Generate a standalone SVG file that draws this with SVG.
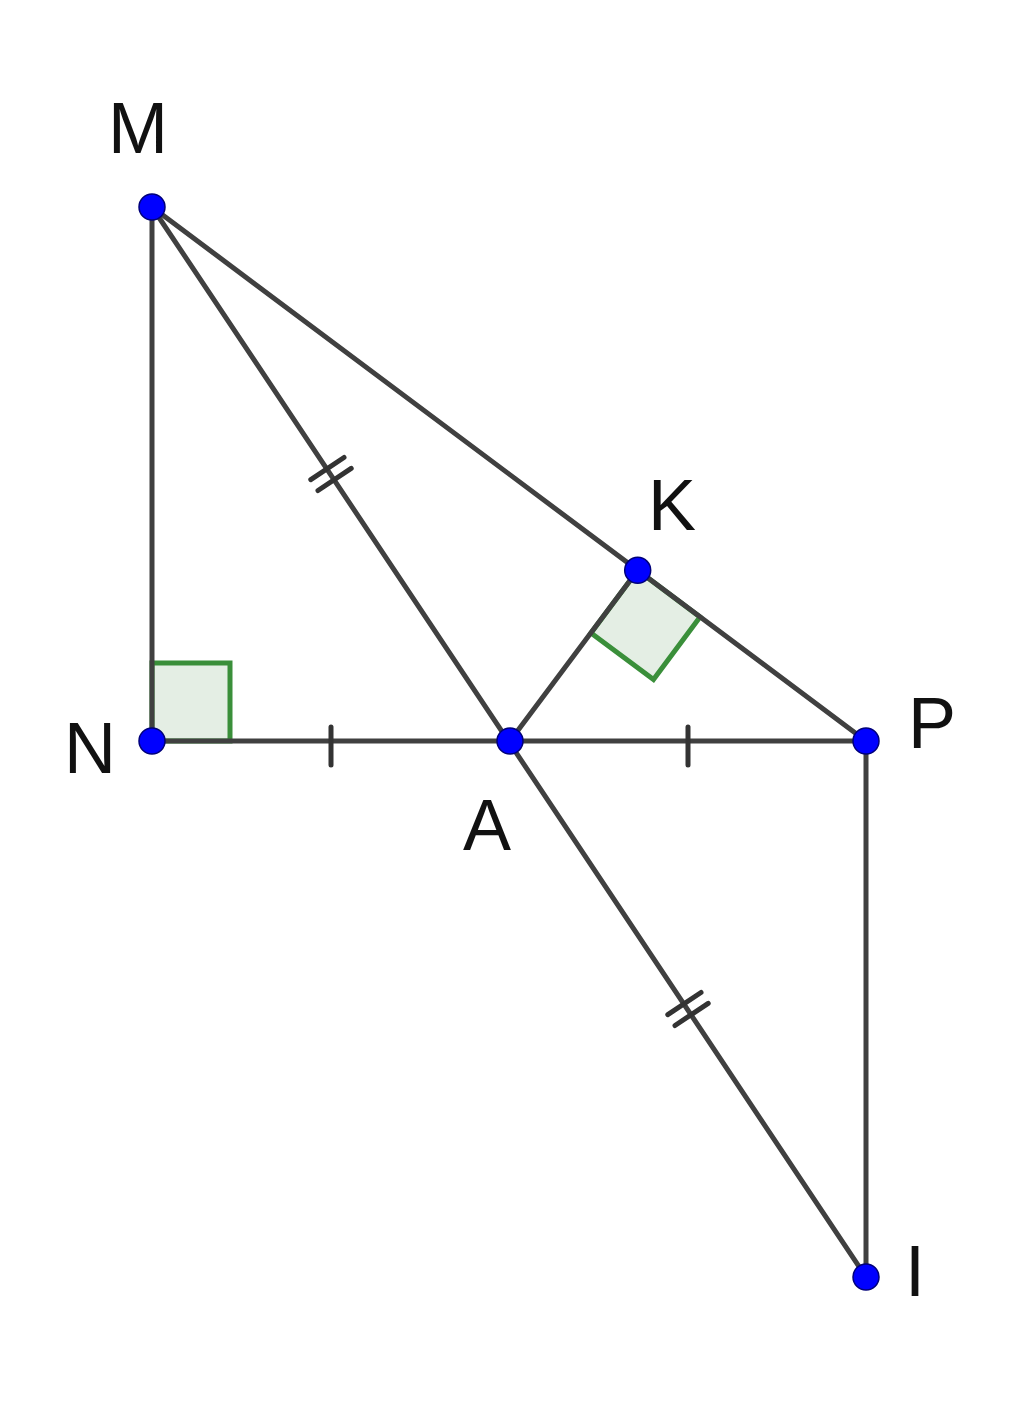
<svg xmlns="http://www.w3.org/2000/svg" width="1024" height="1416" viewBox="0 0 1024 1416">
<style>
.seg{stroke:#404040;stroke-width:5;fill:none;stroke-linecap:round}
.tick{stroke:#333;stroke-width:5;fill:none;stroke-linecap:round}
.ra{fill:#e4eee4;stroke:#3a8f3a;stroke-width:5;stroke-linejoin:miter}
.pt{fill:#0000ff;stroke:#00007a;stroke-width:1.5}
.lbl{font-family:"Liberation Sans",Arial,sans-serif;font-size:72px;fill:#111}
</style>
<rect width="1024" height="1416" fill="#ffffff"/>
<g id="angles">
<path class="ra" d="M152,741 L152,663 L230,663 L230,741 Z"/>
<path class="ra" d="M637.7,570.3 L591,633 L653.5,679.5 L700,617 Z"/>
</g>
<g id="connectors">
<line class="seg" x1="152" y1="207" x2="152" y2="741"/>
<line class="seg" x1="152" y1="207" x2="866" y2="741"/>
<line class="seg" x1="152" y1="207" x2="866" y2="1277"/>
<line class="seg" x1="152" y1="741" x2="866" y2="741"/>
<line class="seg" x1="510" y1="741" x2="637.7" y2="570.3"/>
<line class="seg" x1="866" y1="741" x2="866" y2="1277"/>
<g id="ticks">
<line class="tick" x1="331" y1="727" x2="331" y2="765"/>
<line class="tick" x1="688" y1="727" x2="688" y2="765"/>
<line class="tick" x1="310.8" y1="479.7" x2="344.0" y2="457.5"/>
<line class="tick" x1="318.0" y1="490.5" x2="351.2" y2="468.3"/>
<line class="tick" x1="667.8" y1="1014.7" x2="701.0" y2="992.5"/>
<line class="tick" x1="675.0" y1="1025.5" x2="708.2" y2="1003.3"/>
</g>
</g>
<g id="M"><circle class="pt" cx="152" cy="207" r="13"/><text class="lbl" x="108" y="153">M</text></g>
<g id="N"><circle class="pt" cx="152" cy="741" r="13"/><text class="lbl" x="64" y="773">N</text></g>
<g id="A"><circle class="pt" cx="510" cy="741" r="13"/><text class="lbl" x="463" y="850">A</text></g>
<g id="P"><circle class="pt" cx="866" cy="741" r="13"/><text class="lbl" x="908" y="748">P</text></g>
<g id="K"><circle class="pt" cx="637.7" cy="570.3" r="13"/><text class="lbl" x="648" y="530">K</text></g>
<g id="I"><circle class="pt" cx="866" cy="1277" r="13"/><text class="lbl" x="905" y="1296">I</text></g>
</svg>
